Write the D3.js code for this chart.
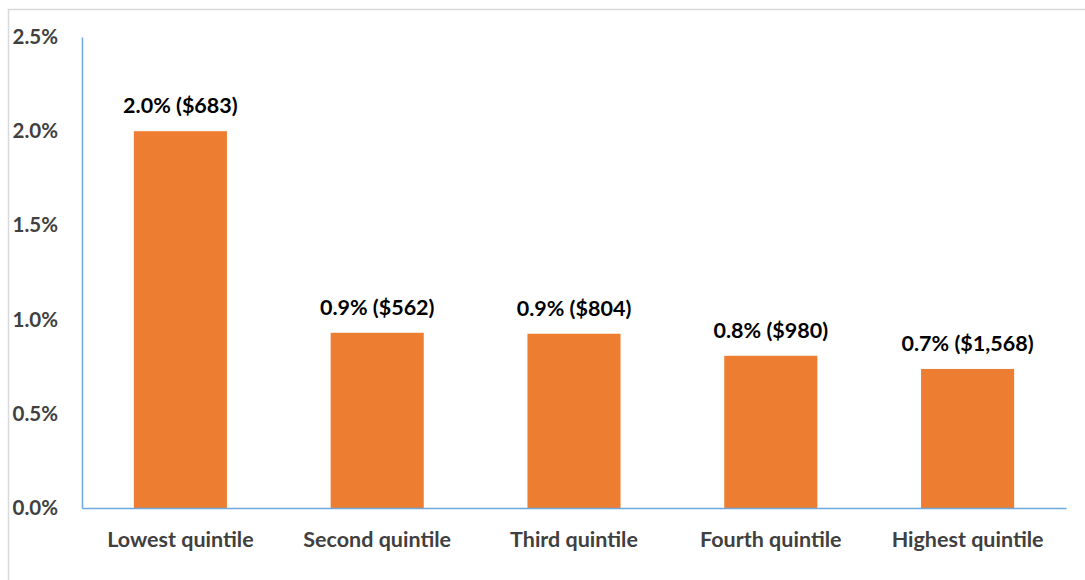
<!DOCTYPE html>
<html>
<head>
<meta charset="utf-8">
<script src="https://cdn.jsdelivr.net/npm/d3@7"></script>
<style>
  html, body { margin: 0; padding: 0; background: #fff; }
  svg { display: block; }
</style>
</head>
<body>
<svg id="chart" width="1085" height="580"></svg>
<script>
// Share of income by quintile, with dollar amounts
const categories = ["Lowest quintile", "Second quintile", "Third quintile", "Fourth quintile", "Highest quintile"];
const shares = [2.0, 0.93, 0.925, 0.808, 0.738];      // percent
const dollars = ["$683", "$562", "$804", "$980", "$1,568"];
const yTicks = [0, 0.5, 1.0, 1.5, 2.0, 2.5];

const svg = d3.select("#chart");
const W = 1085, H = 580;
const margin = { left: 82, right: 19, top: 37, bottom: 72 };
const font = "Lato, 'Open Sans', sans-serif";

// chart frame (clipped on right and bottom)
svg.append("rect")
  .attr("x", 8.5).attr("y", 9.5)
  .attr("width", W + 10).attr("height", H + 10)
  .attr("fill", "none").attr("stroke", "#d9d9d9").attr("stroke-width", 1.5);

const x = d3.scaleBand()
  .domain(categories)
  .range([margin.left, W - margin.right])
  .paddingInner(0.527).paddingOuter(0.2635);

const y = d3.scaleLinear()
  .domain([0, 2.5])
  .range([H - margin.bottom, margin.top]);

// bars
svg.append("g").selectAll("rect")
  .data(shares)
  .join("rect")
  .attr("x", (d, i) => x(categories[i]))
  .attr("y", d => y(d))
  .attr("width", x.bandwidth())
  .attr("height", d => y(0) - y(d))
  .attr("fill", "#ED7D31");

// value labels
svg.append("g").selectAll("text")
  .data(shares)
  .join("text")
  .attr("x", (d, i) => x(categories[i]) + x.bandwidth() / 2)
  .attr("y", d => y(d) - 18)
  .attr("text-anchor", "middle")
  .attr("font-family", font)
  .attr("font-weight", "bold")
  .attr("font-size", 21.5)
  .attr("fill", "#000")
  .text((d, i) => `${d.toFixed(1)}% (${dollars[i]})`);

// y axis
const yAxis = d3.axisLeft(y)
  .tickValues(yTicks)
  .tickSize(0)
  .tickPadding(24)
  .tickFormat(d => d.toFixed(1) + "%");
const gy = svg.append("g")
  .attr("transform", `translate(${margin.left},0)`)
  .call(yAxis);
gy.select(".domain").attr("stroke", "#6FA8DC").attr("stroke-width", 1.5);
gy.selectAll("text")
  .attr("font-family", font)
  .attr("font-weight", "bold")
  .attr("font-size", 20.5)
  .attr("fill", "#404040");

// x axis
const xAxis = d3.axisBottom(x).tickSize(0).tickPadding(24);
const gx = svg.append("g")
  .attr("transform", `translate(0,${y(0)})`)
  .call(xAxis);
gx.select(".domain").attr("stroke", "#6FA8DC").attr("stroke-width", 1.5);
gx.selectAll("text")
  .attr("font-family", font)
  .attr("font-weight", "bold")
  .attr("font-size", 21.5)
  .attr("fill", "#404040");
</script>
</body>
</html>
